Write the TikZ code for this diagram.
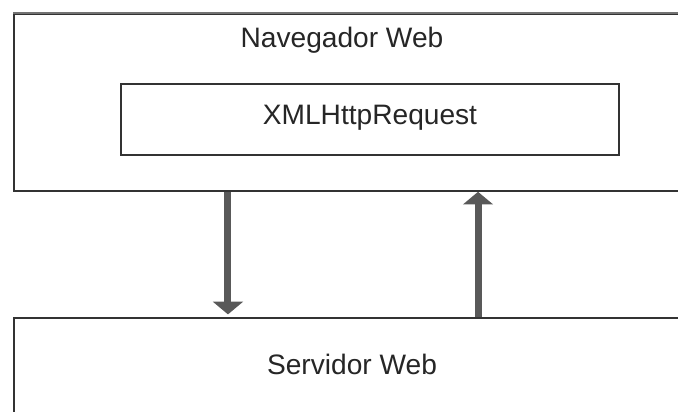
\documentclass[tikz,border=0pt]{standalone}
\usepackage{fontspec}
\setmainfont{Liberation Sans}
\usepackage{tikz}
\usetikzlibrary{arrows.meta,positioning}

\begin{document}
\begin{tikzpicture}[
    x=0.025cm,
    y=-0.025cm,
    font=\fontsize{20pt}{24pt}\selectfont,
    block/.style={
		rectangle,
		draw=black!80,
		line width=1.1pt,
		fill=white,
		inner sep=0pt
	},
	caption/.style={
		anchor=base,
		text=black!85
	},
	flow/.style={
		draw=black!65,
		line width=5pt,
		-{Triangle[width=21pt,length=9pt]}
	}
  ]
    % We start by placing the blocks
  \clip (0,0) rectangle (678,412);

  \node [block, minimum width=17.15cm, minimum height=4.425cm] (browser) at (357,102.5) {};
  \draw [draw=black!55, line width=1.6pt] (browser.north west) -- (browser.north east);
  \node [caption] (browsertext) at (342,48) {Navegador Web};

  \node [block, minimum width=12.45cm, minimum height=1.775cm] (xhr) at (370,119.5) {};
  \node [caption] (xhrtext) at (370,125) {XMLHttpRequest};

  \node [block, minimum width=17.15cm, minimum height=3.05cm] (server) at (357,379) {};
  \node [caption] (servertext) at (352,375) {Servidor Web};

  % then the arrows between them
  \draw [flow, shorten >=2pt] ([xshift=-3.225cm]browser.south) -- ([xshift=-3.225cm]server.north);
  \draw [flow] ([xshift=3.025cm]server.north) -- ([xshift=3.025cm]browser.south);

\end{tikzpicture}
\end{document}
